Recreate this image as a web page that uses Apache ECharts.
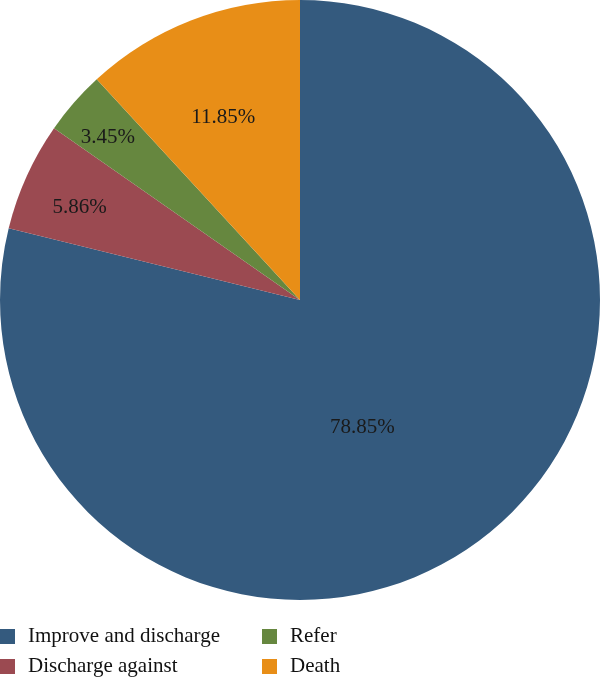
<!DOCTYPE html>
<html><head><meta charset="utf-8">
<script src="https://cdn.jsdelivr.net/npm/echarts@6/dist/echarts.min.js"></script>
<style>html,body{margin:0;padding:0;background:#fff}#c{width:600px;height:682px}</style>
</head><body><div id="c"></div>
<script>
const categories = ["Improve and discharge", "Discharge against", "Refer", "Death"];
const values = [78.85, 5.86, 3.45, 11.85];
const colors = ["#345a7e", "#9b4a51", "#66873f", "#e88e17"];
const labelOffsets = [[-32, 7], [-81, -29], [-77, -62], [-21, -40]];
const font = "'Liberation Serif', 'DejaVu Serif', serif";

const chart = echarts.init(document.getElementById('c'), null, {renderer: 'canvas'});
const legendCommon = {
  orient: 'vertical', padding: 0, itemWidth: 15, itemHeight: 15, itemGap: 9,
  icon: 'rect', selectedMode: false,
  textStyle: {fontFamily: font, fontSize: 21, color: '#111', lineHeight: 21, padding: [0,0,0,8]}
};
chart.setOption({
  animation: false,
  color: colors,
  legend: [
    Object.assign({}, legendCommon, {left: 0, top: 626, data: [categories[0], categories[1]]}),
    Object.assign({}, legendCommon, {left: 262, top: 626, data: [categories[2], categories[3]]})
  ],
  series: [{
    type: 'pie',
    center: [300, 300],
    radius: [0, 300],
    startAngle: 90,
    clockwise: true,
    avoidLabelOverlap: false,
    labelLine: {show: false},
    emphasis: {disabled: true},
    data: categories.map((n, i) => ({
      name: n, value: values[i],
      label: {offset: labelOffsets[i]}
    })),
    label: {
      show: true, position: 'inside',
      formatter: p => p.value.toFixed(2) + '%',
      fontFamily: font, fontSize: 21, color: '#1a1a1a'
    }
  }]
});
</script></body></html>
